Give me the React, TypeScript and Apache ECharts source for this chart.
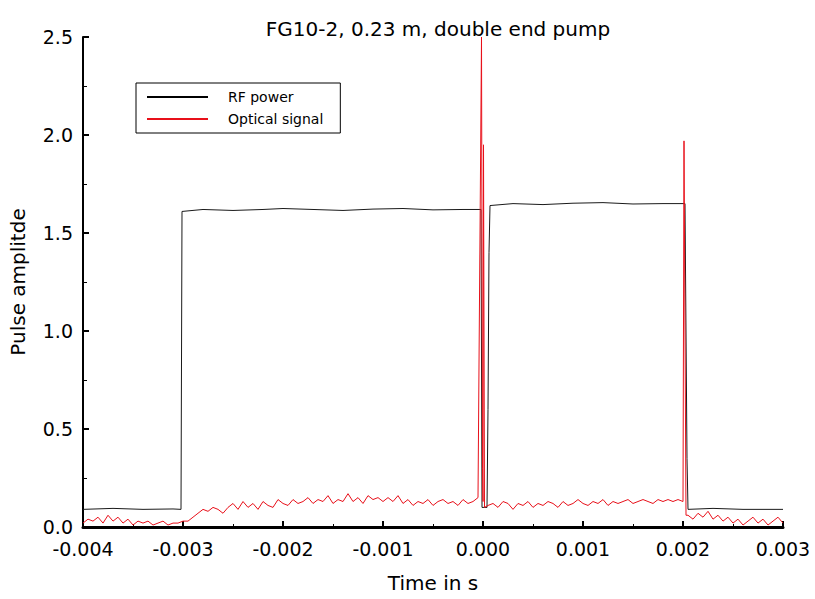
import React, { useEffect, useRef } from "react";
import * as echarts from "echarts";

const chartTitle = "FG10-2, 0.23 m, double end pump";
const xName = "Time in s";
const yName = "Pulse amplitde";
const seriesNames = ["RF power", "Optical signal"];

// RF power trace breakpoints (time in s, amplitude)
const rfTime = [
  -0.004, -0.0037, -0.0034, -0.0031, -0.00302, -0.00301, -0.0028, -0.0025, -0.0022, -0.002,
  -0.0017, -0.0014, -0.0011, -0.0008, -0.0005, -0.0002, -0.00002, -0.00001, 0.00004, 0.00005,
  0.00006, 0.00007, 0.0003, 0.0006, 0.0009, 0.0012, 0.0015, 0.0018, 0.00202, 0.00204,
  0.00205, 0.0023, 0.0026, 0.003,
];
const rfPower = [
  0.09, 0.095, 0.09, 0.092, 0.09, 1.61, 1.62, 1.615, 1.62, 1.625,
  1.62, 1.615, 1.622, 1.625, 1.618, 1.62, 1.62, 0.1, 0.1, 0.6,
  1.4, 1.64, 1.65, 1.645, 1.652, 1.655, 1.648, 1.65, 1.65, 0.35,
  0.09, 0.095, 0.09, 0.09,
];

// Optical signal sampled every 50 µs from -0.004 s
const opticalStart = -0.004;
const opticalStep = 0.00005;
const opticalSignal = [
  0.02, 0.04, 0.03, 0.05, 0.02, 0.06, 0.03, 0.05, 0.02, 0.04, 0.01, 0.03, 0.02, 0.03, 0.01, 0.02, 0.03, 0.01, 0.02, 0.02, 0.03,
  0.03, 0.05, 0.07, 0.09, 0.08, 0.10, 0.09, 0.07, 0.10, 0.12, 0.09, 0.13, 0.10, 0.12, 0.09, 0.13, 0.11, 0.10, 0.14, 0.12,
  0.11, 0.14, 0.12, 0.13, 0.15, 0.12, 0.14, 0.13, 0.16, 0.12, 0.14, 0.13, 0.17, 0.13, 0.15, 0.12, 0.16, 0.14, 0.15, 0.13,
  0.15, 0.13, 0.16, 0.12, 0.14, 0.11, 0.13, 0.12, 0.14, 0.11, 0.13, 0.14, 0.12, 0.13, 0.11, 0.14, 0.12, 0.13, 0.15, 0.13,
  0.11, 0.12, 0.10, 0.13, 0.12, 0.09, 0.12, 0.11, 0.13, 0.10, 0.12, 0.11, 0.13, 0.12, 0.10, 0.13, 0.11, 0.12, 0.14, 0.12,
  0.11, 0.13, 0.12, 0.14, 0.11, 0.13, 0.12, 0.13, 0.14, 0.12, 0.13, 0.14, 0.13, 0.12, 0.14, 0.13, 0.14, 0.13, 0.14, 0.13,
  0.06, 0.04, 0.07, 0.05, 0.08, 0.04, 0.06, 0.03, 0.05, 0.02, 0.04, 0.01, 0.03, 0.05, 0.02, 0.04, 0.01, 0.03, 0.05, 0.02,
];
// Spikes of the optical signal at the RF switching edges
const opticalSpikeTime = [-0.000015, -0.000005, 0.000005, 0.000015, 0.00201, 0.00203];
const opticalSpikeValue = [2.5, 0.3, 1.95, 0.1, 1.97, 0.06];

const FONT = "DejaVu Sans";

export default function App() {
  const ref = useRef<HTMLDivElement>(null);
  useEffect(() => {
    document.body.style.margin = "0";
    if (!ref.current) return;
    const chart = echarts.init(ref.current, undefined, { renderer: "svg" });

    const rfData = rfTime.map((t, i) => [t, rfPower[i]]);
    const optData: number[][] = opticalSignal.map((v, i) => [
      +(opticalStart + i * opticalStep).toFixed(6),
      v,
    ]);
    opticalSpikeTime.forEach((t, i) => optData.push([t, opticalSpikeValue[i]]));
    optData.sort((a, b) => a[0] - b[0]);

    chart.setOption({
      animation: false,
      backgroundColor: "#ffffff",
      title: {
        text: chartTitle,
        left: 433,
        top: 14,
        textAlign: "center",
        textStyle: { fontFamily: FONT, fontSize: 20, fontWeight: "normal", color: "#000" },
      },
      legend: {
        orient: "vertical",
        left: 136,
        top: 83,
        padding: [7, 17, 7, 11],
        itemGap: 8,
        itemWidth: 61,
        itemHeight: 2,
        icon: "rect",
        borderColor: "#000",
        borderWidth: 1,
        data: seriesNames,
        textStyle: { fontFamily: FONT, fontSize: 14, color: "#000", padding: [0, 0, 0, 15] },
      },
      grid: { left: 83, top: 37, right: 32, bottom: 72, containLabel: false },
      xAxis: {
        type: "value",
        min: -0.004,
        max: 0.003,
        interval: 0.001,
        name: xName,
        nameLocation: "middle",
        nameGap: 46,
        nameTextStyle: { fontFamily: FONT, fontSize: 20, color: "#000" },
        axisLine: { show: true, onZero: false, lineStyle: { color: "#000", width: 3 } },
        axisTick: { show: true, inside: true, length: 6, lineStyle: { color: "#000", width: 2 } },
        minorTick: { show: true, splitNumber: 2, length: 3, lineStyle: { color: "#000", width: 1 } },
        splitLine: { show: false },
        axisLabel: {
          fontFamily: FONT,
          fontSize: 19,
          color: "#000",
          margin: 12,
          showMinLabel: true,
          showMaxLabel: true,
          formatter: (v: number) => {
            const s = v.toFixed(3);
            return s === "-0.000" ? "0.000" : s;
          },
        },
      },
      yAxis: {
        type: "value",
        min: 0,
        max: 2.5,
        interval: 0.5,
        name: yName,
        nameLocation: "middle",
        nameGap: 55,
        nameTextStyle: { fontFamily: FONT, fontSize: 20, color: "#000" },
        axisLine: { show: true, onZero: false, lineStyle: { color: "#000", width: 2 } },
        axisTick: { show: true, inside: true, length: 6, lineStyle: { color: "#000", width: 2 } },
        minorTick: { show: true, splitNumber: 2, length: 4, lineStyle: { color: "#000", width: 1 } },
        splitLine: { show: false },
        axisLabel: {
          fontFamily: FONT,
          fontSize: 19,
          color: "#000",
          margin: 10,
          formatter: (v: number) => v.toFixed(1),
        },
      },
      series: [
        {
          name: seriesNames[0],
          type: "line",
          data: rfData,
          showSymbol: false,
          symbol: "none",
          color: "#000000",
          lineStyle: { color: "#1a1a1a", width: 1 },
          z: 2,
        },
        {
          name: seriesNames[1],
          type: "line",
          data: optData,
          showSymbol: false,
          symbol: "none",
          color: "#e8101a",
          lineStyle: { color: "#e8101a", width: 1 },
          z: 3,
        },
      ],
    });
    return () => chart.dispose();
  }, []);
  return <div ref={ref} style={{ width: 815, height: 599 }} />;
}
